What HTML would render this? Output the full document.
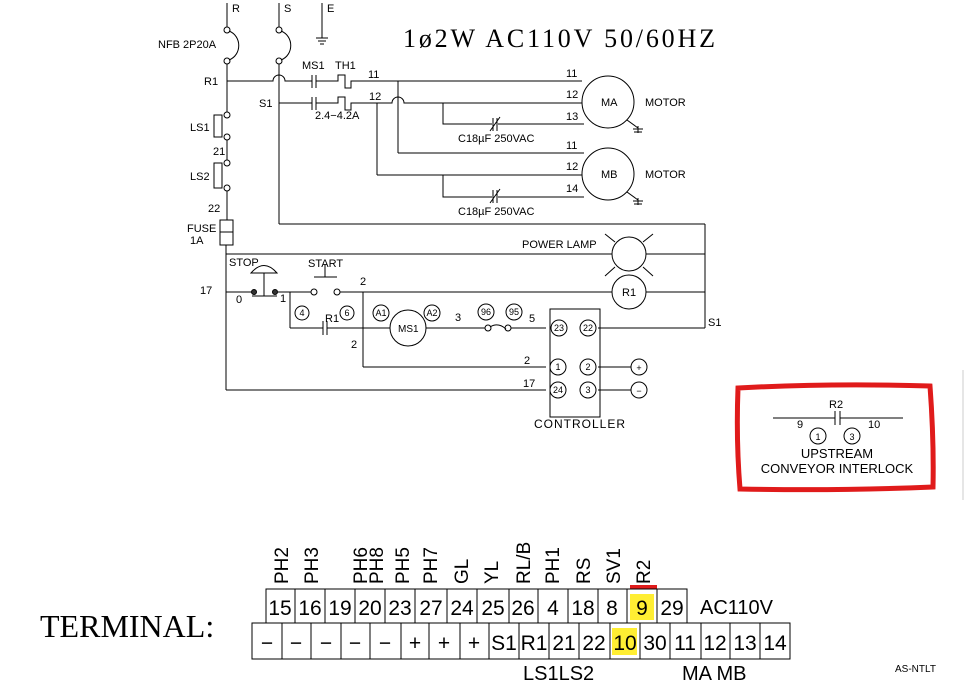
<!DOCTYPE html>
<html><head><meta charset="utf-8"><style>
body{margin:0;background:#fff}
svg{display:block}
text{font-family:"Liberation Sans",sans-serif;font-size:11px;fill:#000}
text.s{font-family:"Liberation Serif",serif}
g.c9 text{font-size:9px}
g.t21 text{font-size:21px}
g.rot text{font-size:19px}
</style></head><body>
<svg width="971" height="684" viewBox="0 0 971 684" xmlns="http://www.w3.org/2000/svg">
<g stroke="#000" stroke-width="1" fill="none">
<!-- R line -->
<line x1="227" y1="3" x2="227" y2="27"/>
<circle cx="227" cy="30" r="3" fill="#fff"/>
<circle cx="227" cy="61" r="3" fill="#fff"/>
<path d="M229 31 C242 36 242 55 229 60"/>
<line x1="227" y1="64" x2="227" y2="112"/>
<rect x="214" y="115" width="8" height="22"/>
<circle cx="227" cy="115" r="3" fill="#fff"/><circle cx="227" cy="137" r="3" fill="#fff"/>
<line x1="227" y1="140" x2="227" y2="160"/>
<rect x="214" y="163" width="8" height="25"/>
<circle cx="227" cy="163" r="3" fill="#fff"/><circle cx="227" cy="188" r="3" fill="#fff"/>
<line x1="227" y1="191" x2="227" y2="220"/>
<rect x="220" y="220" width="13" height="25"/><line x1="220" y1="232" x2="233" y2="232"/>
<line x1="226" y1="245" x2="226" y2="390"/>
<!-- S line -->
<line x1="279" y1="3" x2="279" y2="27"/>
<circle cx="279" cy="30" r="3" fill="#fff"/>
<circle cx="279" cy="61" r="3" fill="#fff"/>
<path d="M281 31 C294 36 294 55 281 60"/>
<line x1="279" y1="64" x2="279" y2="224"/>
<line x1="279" y1="224" x2="705" y2="224"/>
<line x1="705" y1="224" x2="705" y2="328"/>
<!-- E -->
<line x1="322" y1="3" x2="322" y2="38"/>
<line x1="316" y1="38" x2="328" y2="38"/><line x1="318" y1="41" x2="326" y2="41"/><line x1="320" y1="44" x2="324" y2="44"/>
<!-- R1 line -->
<path d="M227 81 H273 A6 6 0 0 1 285 81 H312"/>
<line x1="312" y1="75" x2="312" y2="88"/><line x1="316" y1="75" x2="316" y2="88"/>
<path d="M316 81 H338 V75 H345 V88 H351 V81 H582"/>
<line x1="398" y1="81" x2="398" y2="153"/>
<line x1="398" y1="153" x2="584" y2="153"/>
<!-- S1 line -->
<line x1="279" y1="103" x2="312" y2="103"/>
<line x1="312" y1="97" x2="312" y2="110"/><line x1="316" y1="97" x2="316" y2="110"/>
<path d="M316 103 H338 V97 H345 V110 H351 V103 H392 A6 6 0 0 1 404 103 H582"/>
<line x1="377" y1="103" x2="377" y2="175"/>
<line x1="377" y1="175" x2="582" y2="175"/>
<path d="M443 103 V124 H584"/>
<path d="M443 175 V197 H584"/>
<rect x="492" y="119" width="6" height="11" fill="#fff" stroke="none"/>
<rect x="492" y="191" width="6" height="11" fill="#fff" stroke="none"/>
<path d="M493 118 V131 M497 118 V131 M490 131 L500 117"/>
<path d="M493 190 V203 M497 190 V203 M490 203 L500 189"/>
<!-- motors -->
<circle cx="608" cy="102" r="26" fill="#fff"/>
<circle cx="608" cy="174" r="26" fill="#fff"/>
<line x1="627" y1="120" x2="638" y2="128"/>
<line x1="638" y1="126" x2="638" y2="133"/><line x1="633" y1="129" x2="643" y2="129"/><line x1="634" y1="132" x2="642" y2="132"/>
<line x1="627" y1="192" x2="638" y2="200"/>
<line x1="638" y1="198" x2="638" y2="205"/><line x1="633" y1="201" x2="643" y2="201"/><line x1="634" y1="204" x2="642" y2="204"/>
<!-- control -->
<line x1="226" y1="254" x2="612" y2="254"/><line x1="646" y1="254" x2="705" y2="254"/>
<circle cx="629" cy="254" r="17"/>
<line x1="605" y1="234" x2="615" y2="242"/><line x1="653" y1="234" x2="643" y2="242"/>
<line x1="605" y1="276" x2="615" y2="267"/><line x1="653" y1="276" x2="643" y2="267"/>
<line x1="226" y1="292" x2="251" y2="292"/>
<circle cx="254" cy="292" r="2.5" fill="#333"/><circle cx="275" cy="292" r="2.5" fill="#333"/>
<path d="M252 296 H277 M264 296 V273"/>
<path d="M251 273 Q264 258 277 273 Z"/>
<line x1="278" y1="292" x2="311" y2="292"/>
<circle cx="314" cy="292" r="3"/><circle cx="337" cy="292" r="3"/>
<path d="M314 277 H337 M325 277 V265"/>
<line x1="340" y1="292" x2="612" y2="292"/>
<circle cx="629" cy="292" r="17"/>
<line x1="646" y1="292" x2="705" y2="292"/>
<line x1="290" y1="292" x2="290" y2="328"/>
<line x1="290" y1="328" x2="323" y2="328"/><line x1="323" y1="321" x2="323" y2="335"/><line x1="327" y1="321" x2="327" y2="335"/>
<line x1="327" y1="328" x2="390" y2="328"/>
<line x1="363" y1="292" x2="363" y2="367"/><line x1="363" y1="367" x2="546" y2="367"/>
<circle cx="408" cy="328" r="18"/>
<line x1="426" y1="328" x2="485" y2="328"/>
<circle cx="488" cy="328" r="3"/><circle cx="508" cy="328" r="3"/>
<path d="M490 327 Q498 322 506 329"/>
<line x1="511" y1="328" x2="546" y2="328"/>
<line x1="226" y1="390" x2="546" y2="390"/>
<rect x="550" y="309" width="50" height="108"/>
<circle cx="559" cy="328" r="8"/><circle cx="588" cy="328" r="8"/>
<circle cx="558" cy="367" r="8"/><circle cx="588" cy="367" r="8"/>
<circle cx="558" cy="390" r="8"/><circle cx="588" cy="390" r="8"/>
<line x1="598" y1="328" x2="705" y2="328"/>
<line x1="598" y1="367" x2="631" y2="367"/><line x1="598" y1="390" x2="631" y2="390"/>
<circle cx="639" cy="367" r="8"/><circle cx="639" cy="390" r="8"/>
<circle cx="302" cy="313" r="7"/><circle cx="347" cy="313" r="7"/>
<circle cx="381" cy="313" r="8"/><circle cx="432" cy="313" r="8"/>
<circle cx="486" cy="312" r="8"/><circle cx="514" cy="312" r="8"/>
<!-- red box content -->
<line x1="773" y1="418" x2="835" y2="418"/><line x1="835" y1="411" x2="835" y2="425"/><line x1="840" y1="411" x2="840" y2="425"/><line x1="840" y1="418" x2="903" y2="418"/>
<circle cx="818" cy="436" r="8"/><circle cx="852" cy="436" r="8"/>
<line x1="963" y1="370" x2="963" y2="500" stroke="#ccc"/>
</g>
<path d="M738 388 Q830 383 930 386 Q934 440 933 487 Q840 491 740 489 Q736 440 738 388 Z" fill="none" stroke="#e01b1b" stroke-width="5"/>
<!-- labels -->
<text x="232" y="12">R</text><text x="284" y="12">S</text><text x="327" y="12">E</text>
<text x="158" y="48">NFB 2P20A</text>
<text x="204" y="85">R1</text><text x="259" y="107">S1</text>
<text x="190" y="131">LS1</text><text x="213" y="155">21</text>
<text x="190" y="180">LS2</text><text x="208" y="212">22</text>
<text x="187" y="232">FUSE</text><text x="190" y="244">1A</text>
<text x="302" y="69">MS1</text><text x="335" y="69">TH1</text>
<text x="368" y="78">11</text><text x="369" y="100">12</text>
<text x="315" y="119">2.4−4.2A</text>
<text x="566" y="77">11</text><text x="566" y="98">12</text><text x="566" y="120">13</text>
<text x="566" y="149">11</text><text x="566" y="170">12</text><text x="566" y="192">14</text>
<text x="601" y="106">MA</text><text x="601" y="178">MB</text>
<text x="645" y="106">MOTOR</text><text x="645" y="178">MOTOR</text>
<text x="458" y="142">C18µF 250VAC</text><text x="458" y="215">C18µF 250VAC</text>
<text class="s" x="403" y="47" style="font-size:26px" textLength="312" lengthAdjust="spacing">1ø2W AC110V 50/60HZ</text>
<text x="522" y="248">POWER LAMP</text>
<text x="229" y="266">STOP</text><text x="308" y="267">START</text>
<text x="200" y="294">17</text><text x="236" y="303">0</text><text x="280" y="302">1</text>
<text x="360" y="285">2</text><text x="351" y="348">2</text>
<text x="622" y="296">R1</text><text x="398" y="332" style="font-size:10px">MS1</text>
<g class="c9" text-anchor="middle">
<text x="302" y="316">4</text><text x="347" y="316">6</text><text x="381" y="316">A1</text><text x="432" y="316">A2</text>
<text x="486" y="315">96</text><text x="514" y="315">95</text>
<text x="559" y="331">23</text><text x="588" y="331">22</text><text x="558" y="370">1</text><text x="588" y="370">2</text>
<text x="558" y="393">24</text><text x="588" y="393">3</text><text x="639" y="371">+</text><text x="639" y="394">−</text>
<text x="818" y="440">1</text><text x="852" y="440">3</text>
</g>
<text x="325" y="322">R1</text><text x="455" y="321">3</text><text x="529" y="322">5</text>
<text x="524" y="364">2</text><text x="523" y="387">17</text>
<text x="708" y="326">S1</text>
<text x="534" y="428" style="font-size:12px;letter-spacing:1px">CONTROLLER</text>
<text x="829" y="408">R2</text><text x="797" y="428">9</text><text x="868" y="428">10</text>
<text x="837" y="458" text-anchor="middle" style="font-size:13px">UPSTREAM</text>
<text x="837" y="473" text-anchor="middle" style="font-size:13px">CONVEYOR INTERLOCK</text>
<!-- terminal -->
<text class="s" x="40" y="637" style="font-size:32px">TERMINAL:</text>
<rect x="630" y="594" width="24" height="26" fill="#ffee33"/>
<rect x="612" y="628" width="25" height="27" fill="#ffee33"/>
<rect x="630" y="585" width="27" height="4" fill="#e01b1b"/>
<g stroke="#000" fill="none">
<rect x="266" y="589" width="421" height="34"/>
<path d="M295 589V623M325 589V623M355 589V623M385 589V623M415 589V623M447 589V623M477 589V623M509 589V623M538 589V623M568 589V623M598 589V623M627 589V623M657 589V623"/>
<rect x="252" y="623" width="538" height="36"/>
<path d="M282 623V659M311 623V659M341 623V659M370 623V659M401 623V659M429 623V659M460 623V659M489 623V659M519 623V659M549 623V659M579 623V659M610 623V659M640 623V659M670 623V659M701 623V659M730 623V659M760 623V659"/>
</g>
<g class="t21" text-anchor="middle">
<text x="280" y="615">15</text><text x="310" y="615">16</text><text x="340" y="615">19</text><text x="370" y="615">20</text><text x="400" y="615">23</text><text x="431" y="615">27</text><text x="462" y="615">24</text><text x="493" y="615">25</text><text x="523" y="615">26</text><text x="553" y="615">4</text><text x="583" y="615">18</text><text x="612" y="615">8</text><text x="642" y="615">9</text><text x="672" y="615">29</text>
<text x="267" y="650">−</text><text x="296" y="650">−</text><text x="326" y="650">−</text><text x="355" y="650">−</text><text x="385" y="650">−</text><text x="415" y="650">+</text><text x="444" y="650">+</text><text x="474" y="650">+</text><text x="504" y="650">S1</text><text x="534" y="650">R1</text><text x="564" y="650">21</text><text x="594" y="650">22</text><text x="625" y="650">10</text><text x="655" y="650">30</text><text x="685" y="650">11</text><text x="715" y="650">12</text><text x="745" y="650">13</text><text x="775" y="650">14</text>
</g>
<text x="700" y="614" style="font-size:20px">AC110V</text>
<text x="523" y="680" style="font-size:20px">LS1LS2</text>
<text x="682" y="680" style="font-size:20px">MA  MB</text>
<text x="895" y="672" style="font-size:10px">AS-NTLT</text>
<g class="rot">
<text transform="translate(288,584) rotate(-90)">PH2</text>
<text transform="translate(318,584) rotate(-90)">PH3</text>
<text transform="translate(367,584) rotate(-90)">PH6</text>
<text transform="translate(383,584) rotate(-90)">PH8</text>
<text transform="translate(409,584) rotate(-90)">PH5</text>
<text transform="translate(437,584) rotate(-90)">PH7</text>
<text transform="translate(468,584) rotate(-90)">GL</text>
<text transform="translate(498,584) rotate(-90)">YL</text>
<text transform="translate(530,584) rotate(-90)">RL/B</text>
<text transform="translate(559,584) rotate(-90)">PH1</text>
<text transform="translate(590,584) rotate(-90)">RS</text>
<text transform="translate(620,584) rotate(-90)">SV1</text>
<text transform="translate(650,584) rotate(-90)">R2</text>
</g>
</svg>
</body></html>
